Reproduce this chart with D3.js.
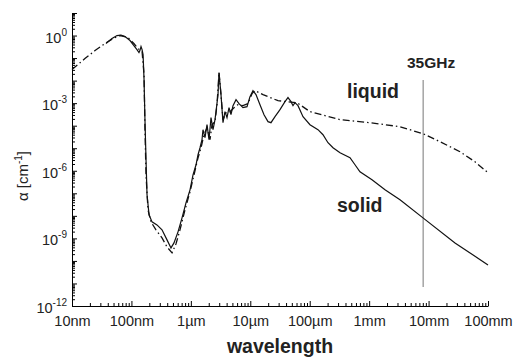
<!DOCTYPE html>
<html>
<head>
<meta charset="utf-8">
<script src="https://cdn.jsdelivr.net/npm/d3@7"></script>
<style>
  body { margin: 0; background: #fff; }
  svg { font-family: "Liberation Sans", Arial, sans-serif; }
</style>
</head>
<body>
<div class="container"></div>
<script>
// wavelength in nm, absorption coefficient in cm^-1
const solidWl = [37.3, 47.1, 57.2, 66.8, 78, 94.6, 110, 124, 134, 139, 145, 151, 157, 163, 169, 176, 183, 198,
  222, 269, 327, 397, 463, 520, 608, 710, 828, 968, 1087, 1222, 1320, 1426, 1540, 1600, 1730, 1870, 2020,
  2183, 2360, 2548, 2650, 2864, 2976, 3214, 3474, 3750, 4055, 4385, 4735, 5117, 5754, 6457, 7534, 8810,
  9886, 11100, 12470, 14560, 17020, 19870, 22300, 26060, 31620, 38370, 43080, 48420, 52330, 56500, 63530,
  77100, 1.01e5, 1.378e5, 1.672e5, 2.03e5, 2.466e5, 3.236e5, 4.764e5, 5.781e5, 7.015e5, 1.117e6, 1.849e6,
  3.304e6, 8.054e6, 2.784e7, 1e8];
const solidAlpha = [0.441, 0.736, 1.0, 1.05, 0.9, 0.6, 0.36, 0.239, 0.176, 0.215, 0.325, 0.239, 0.143, 0.0111,
  1.85e-4, 3.08e-6, 8.58e-8, 1.11e-8, 5.41e-9, 3.98e-9, 2.39e-9, 8.58e-10, 3.78e-10, 6.3e-10, 1.95e-9,
  8.15e-9, 3.78e-8, 1.43e-7, 6.64e-7, 1.85e-6, 5.14e-6, 1.05e-5, 2.39e-5, 6.64e-5, 2.93e-5, 1.11e-4,
  2.39e-5, 2.27e-4, 6.64e-5, 1.85e-4, 4.19e-4, 2.39e-3, 0.0227, 2.39e-3, 1.36e-4, 4.19e-4, 2.27e-4,
  6.3e-4, 3.08e-4, 7.74e-4, 1.43e-3, 9.5e-4, 6.3e-4, 6.99e-4, 1.95e-3, 3.6e-3, 2.39e-3, 8.58e-4, 3.08e-4,
  1.51e-4, 1.36e-4, 2.51e-4, 5.14e-4, 1.17e-3, 1.76e-3, 1.17e-3, 7.74e-4, 1.05e-3, 7.74e-4, 2.51e-4,
  1.11e-4, 6.64e-5, 3.98e-5, 1.76e-5, 1.05e-5, 6.3e-6, 3.78e-6, 1.85e-6, 9.0e-7, 3.98e-7, 1.43e-7,
  5.14e-8, 8.15e-9, 6.3e-10, 6.64e-11];

const liquidWl = [10, 16.5, 24.4, 35.9, 49, 64.2, 87.5, 110, 129, 151, 163, 169, 176, 190, 213, 259, 327, 397,
  482, 562, 656, 797, 968, 1130, 1320, 1483, 1664, 1870, 2100, 2270, 2548, 2754, 2976, 3214, 3474, 3900,
  4560, 5321, 6209, 7534, 9150, 10690, 11995, 16370, 29250, 61100, 1.01e5, 3.236e5, 1.033e6, 3.304e6,
  8.054e6, 1.556e7, 3.38e7, 6.04e7, 1e8];
const liquidAlpha = [0.0308, 0.095, 0.215, 0.441, 0.736, 1.0, 0.815, 0.441, 0.264, 0.195, 0.0185, 6.64e-5,
  6.64e-7, 1.85e-8, 5.41e-9, 2.39e-9, 1.05e-9, 4.19e-10, 2.27e-10, 5.7e-10, 2.39e-9, 1.85e-8, 1.17e-7,
  6.64e-7, 3.78e-6, 1.05e-5, 3.98e-5, 8.15e-5, 2.39e-5, 1.11e-4, 1.51e-4, 8.58e-4, 0.0227, 2.39e-3,
  1.85e-4, 3.78e-4, 4.19e-4, 6.3e-4, 8.58e-4, 7.74e-4, 9.5e-4, 2.64e-3, 3.6e-3, 2.39e-3, 1.29e-3,
  1.05e-3, 4.19e-4, 1.85e-4, 1.36e-4, 9.0e-5, 4.41e-5, 1.95e-5, 7.0e-6, 2.51e-6, 8.15e-7];

const xTickValues = [1e1, 1e2, 1e3, 1e4, 1e5, 1e6, 1e7, 1e8];
const xTickLabels = ["10nm", "100nm", "1\u00b5m", "10\u00b5m", "100\u00b5m", "1mm", "10mm", "100mm"];
const yLabelExps = [0, -3, -6, -9, -12];
const markerWl = 8.1e6; // 35 GHz

const width = 513;
const height = 358;
const marginLeft = 72;
const marginRight = 25;
const marginTop = 13;
const marginBottom = 52;

const x = d3.scaleLog()
  .domain([1e1, 1e8])
  .range([marginLeft, width - marginRight]);

const y = d3.scaleLog()
  .domain([1e-12, 1e1])
  .range([height - marginBottom, marginTop]);

const svg = d3.select(".container")
  .append("svg")
  .attr("width", width)
  .attr("height", height);

// minor tick positions (2..9 in every decade)
function minors(lo, hi) {
  const out = [];
  for (let e = lo; e < hi; e++) {
    for (let m = 2; m <= 9; m++) out.push(m * Math.pow(10, e));
  }
  return out;
}

// x axis
svg.append("g")
  .attr("transform", `translate(0,${height - marginBottom})`)
  .call(d3.axisBottom(x).tickValues(minors(1, 8)).tickFormat("").tickSizeInner(-3).tickSizeOuter(0))
  .call(g => g.select(".domain").remove());

const xAxis = svg.append("g")
  .attr("transform", `translate(0,${height - marginBottom})`)
  .call(d3.axisBottom(x)
    .tickValues(xTickValues)
    .tickFormat((d, i) => xTickLabels[i])
    .tickSizeInner(-5)
    .tickSizeOuter(0)
    .tickPadding(10));
xAxis.selectAll("text")
  .attr("font-size", 14.5)
  .attr("fill", "#222")
  .attr("font-family", "Liberation Sans, Arial, sans-serif");

// y axis
const yDecades = d3.range(-12, 2).map(e => Math.pow(10, e));
svg.append("g")
  .attr("transform", `translate(${marginLeft},0)`)
  .call(d3.axisLeft(y).tickValues(minors(-12, 1)).tickFormat("").tickSizeInner(-3).tickSizeOuter(0))
  .call(g => g.select(".domain").remove());

const yAxis = svg.append("g")
  .attr("transform", `translate(${marginLeft},0)`)
  .call(d3.axisLeft(y)
    .tickValues(yDecades)
    .tickFormat("")
    .tickSizeInner(-5)
    .tickSizeOuter(0));

// y tick labels with superscripts
const yLab = svg.append("g")
  .attr("font-size", 14.5)
  .attr("fill", "#222");
yLabelExps.forEach(e => {
  const t = yLab.append("text")
    .attr("x", marginLeft - 5)
    .attr("y", y(Math.pow(10, e)) + 7)
    .attr("text-anchor", "end");
  t.append("tspan").text("10");
  t.append("tspan")
    .attr("font-size", 10)
    .attr("dy", -7)
    .text(String(e).replace("-", "-"));
});

// 35 GHz marker
svg.append("line")
  .attr("x1", x(markerWl))
  .attr("x2", x(markerWl))
  .attr("y1", 80)
  .attr("y2", 287)
  .attr("stroke", "#777")
  .attr("stroke-width", 1);

svg.append("text")
  .attr("x", x(markerWl) + 8)
  .attr("y", 68)
  .attr("text-anchor", "middle")
  .attr("font-size", 15.5)
  .attr("font-weight", "bold")
  .attr("fill", "#222")
  .text("35GHz");

// curves
const line = d3.line()
  .x(d => x(d[0]))
  .y(d => y(d[1]));

svg.append("path")
  .datum(liquidWl.map((w, i) => [w, liquidAlpha[i]]))
  .attr("fill", "none")
  .attr("stroke", "#111")
  .attr("stroke-width", 1.3)
  .attr("stroke-dasharray", "7,3,1.5,3")
  .attr("d", line);

svg.append("path")
  .datum(solidWl.map((w, i) => [w, solidAlpha[i]]))
  .attr("fill", "none")
  .attr("stroke", "#111")
  .attr("stroke-width", 1.2)
  .attr("d", line);

// series labels
svg.append("text")
  .attr("x", 347)
  .attr("y", 98)
  .attr("font-size", 19.5)
  .attr("font-weight", "bold")
  .attr("fill", "#222")
  .text("liquid");

svg.append("text")
  .attr("x", 337)
  .attr("y", 212)
  .attr("font-size", 19.5)
  .attr("font-weight", "bold")
  .attr("fill", "#222")
  .text("solid");

// axis titles
svg.append("text")
  .attr("x", 280)
  .attr("y", 353)
  .attr("text-anchor", "middle")
  .attr("font-size", 19.5)
  .attr("font-weight", "bold")
  .attr("fill", "#222")
  .text("wavelength");

const yTitle = svg.append("text")
  .attr("transform", "translate(28,176) rotate(-90)")
  .attr("text-anchor", "middle")
  .attr("font-size", 15)
  .attr("fill", "#222");
yTitle.append("tspan").text("\u03b1 [cm");
yTitle.append("tspan").attr("font-size", 10).attr("dy", -6).text("-1");
yTitle.append("tspan").attr("dy", 6).text("]");
</script>
</body>
</html>
